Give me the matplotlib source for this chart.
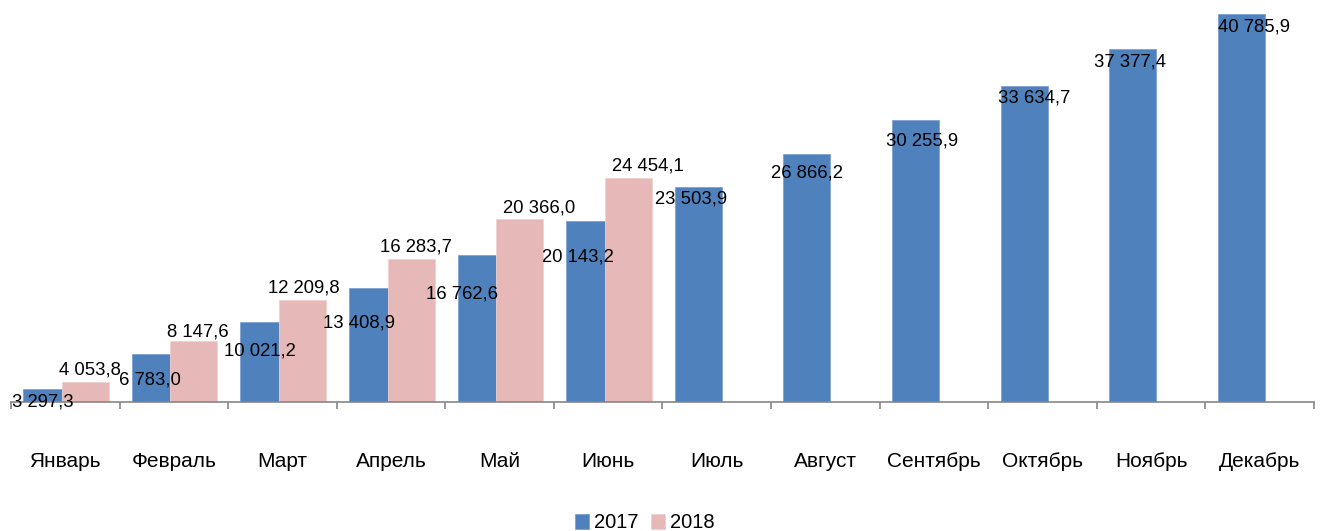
import matplotlib
matplotlib.use("Agg")
import matplotlib.pyplot as plt
import numpy as np

plt.rcParams['font.family'] = ['Liberation Sans', 'DejaVu Sans']

months = ["Январь", "Февраль", "Март", "Апрель", "Май", "Июнь", "Июль",
          "Август", "Сентябрь", "Октябрь", "Ноябрь", "Декабрь"]
values_2017 = [3297.3, 6783.0, 10021.2, 13408.9, 16762.6, 20143.2, 23503.9,
               26866.2, 30255.9, 33634.7, 37377.4, 40785.9]
values_2018 = [4053.8, 8147.6, 12209.8, 16283.7, 20366.0, 24454.1]
series_names = ["2017", "2018"]

def fmt(v):
    s = f"{v:,.1f}"
    return s.replace(",", " ").replace(".", ",")

# label offsets in pixels (dx, dy) relative to bar top centre
off_2017 = [(-4, -13), (-5, -26), (-4, -29), (-14, -35), (-19, -39), (-12, -36),
            (-7, -12), (0, -19), (7, -21), (10, -12), (-3, -13), (13, -13)]
off_2018 = [(5, 12), (4, 9), (1, 12), (5, 12), (20, 11), (20, 12)]

c2017 = "#4F81BD"
c2018 = "#E6B9B8"

W, H = 1320, 531
fig = plt.figure(figsize=(W / 100, H / 100), dpi=100)
ax = fig.add_axes([11 / W, (H - 402.3) / H, (1314 - 11) / W, (402.3 - 2.3) / H])

x = np.arange(len(months))
x18 = np.arange(len(values_2018))
bw = 0.433
b1 = ax.bar(x - 0.170, values_2017, width=bw, color=c2017, edgecolor="#7FA2D1",
            linewidth=0.6, zorder=2, label=series_names[0])
b2 = ax.bar(x18 + 0.184, values_2018, width=bw, color=c2018, edgecolor="#EFD0CF",
            linewidth=0.6, zorder=3, label=series_names[1])

for xi, v, (dx, dy) in zip(x - 0.170, values_2017, off_2017):
    ax.annotate(fmt(v), (xi, v), xytext=(dx, dy), textcoords="offset pixels",
                ha="center", va="center", fontsize=13.3, color="black", zorder=5)
for xi, v, (dx, dy) in zip(x18 + 0.184, values_2018, off_2018):
    ax.annotate(fmt(v), (xi, v), xytext=(dx, dy), textcoords="offset pixels",
                ha="center", va="center", fontsize=13.3, color="black", zorder=5)

ax.set_xlim(-0.5, len(months) - 0.5)
ax.set_ylim(2000, 42000)
ax.set_yticks([])
for s in ["top", "right", "left"]:
    ax.spines[s].set_visible(False)
ax.spines["bottom"].set_color("#868686")
ax.spines["bottom"].set_linewidth(1.2)
ax.spines["bottom"].set_zorder(4)

ax.set_xticks(x)
ax.set_xticklabels(months, fontsize=15)
ax.tick_params(axis="x", which="major", length=0, pad=36)
ax.set_xticks(np.arange(len(months) + 1) - 0.5, minor=True)
ax.tick_params(axis="x", which="minor", length=5, color="#868686", width=1.2)

fig.legend(handles=[b1, b2], labels=series_names, loc="center",
           bbox_to_anchor=(645 / W, 1 - 523 / H), ncol=2, frameon=False,
           fontsize=14.5, handlelength=0.7, handleheight=0.7,
           handletextpad=0.25, columnspacing=0.6, borderaxespad=0)

fig.savefig("out.png", dpi=100)
